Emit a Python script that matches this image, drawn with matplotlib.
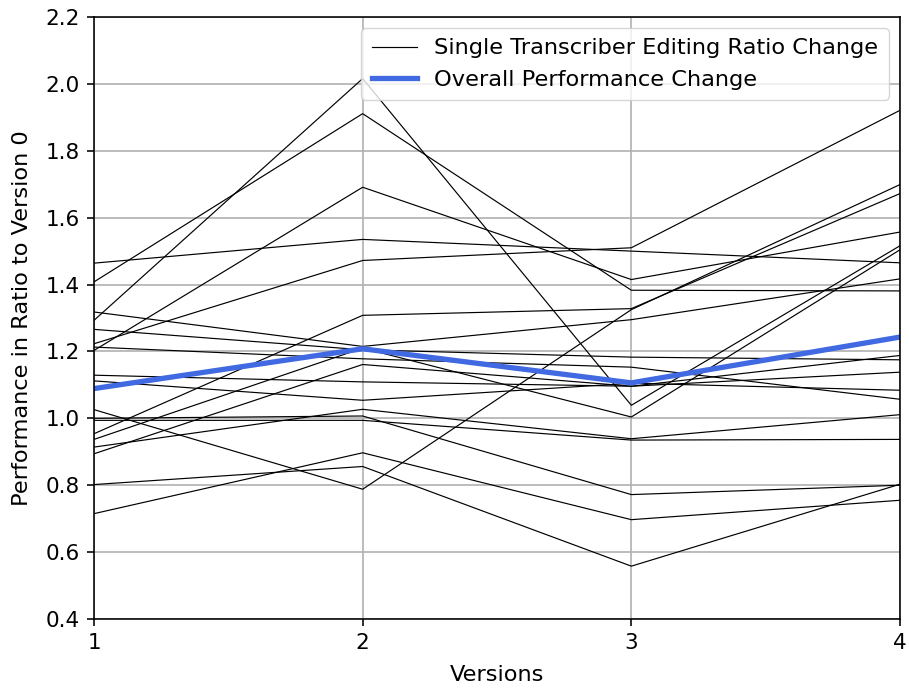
import matplotlib
matplotlib.use("Agg")
import matplotlib.pyplot as plt

versions = [1, 2, 3, 4]

# Single transcriber editing ratio changes (value at version 1..4)
transcribers = [
    [1.464, 1.535, 1.500, 1.465],
    [1.408, 1.911, 1.383, 1.381],
    [1.293, 2.016, 1.039, 1.516],
    [1.026, 0.788, 1.325, 1.699],
    [1.223, 1.472, 1.510, 1.921],
    [1.203, 1.691, 1.415, 1.557],
    [0.954, 1.308, 1.328, 1.672],
    [1.318, 1.215, 1.295, 1.417],
    [1.266, 1.205, 1.183, 1.175],
    [1.213, 1.178, 1.153, 1.057],
    [1.129, 1.109, 1.096, 1.138],
    [1.112, 1.054, 1.105, 1.084],
    [0.802, 0.856, 0.558, 0.803],
    [0.715, 0.897, 0.697, 0.755],
    [0.994, 0.994, 0.935, 0.937],
    [0.914, 1.027, 0.939, 1.011],
    [1.000, 1.007, 0.772, 0.800],
    [0.894, 1.161, 1.096, 1.188],
    [0.937, 1.210, 1.004, 1.504],
]

overall = [1.089, 1.208, 1.106, 1.243]

yticks = [0.4, 0.6, 0.8, 1.0, 1.2, 1.4, 1.6, 1.8, 2.0, 2.2]

plt.rcParams["axes.linewidth"] = 1.15

fig = plt.figure(figsize=(9.09, 6.88), dpi=100)
ax = fig.add_axes([94/909, 1-619/688, (900-94)/909, (619-17)/688])

for i, vals in enumerate(transcribers):
    ax.plot(versions, vals, color="black", lw=0.85,
            label="Single Transcriber Editing Ratio Change" if i == 0 else None)
ax.plot(versions, overall, color="royalblue", lw=3.8,
        label="Overall Performance Change")

ax.set_xlim(1, 4)
ax.set_ylim(0.4, 2.2)
ax.set_xticks(versions)
ax.set_yticks(yticks)
ax.set_yticklabels([f"{v:.1f}" for v in yticks])
ax.tick_params(labelsize=15.5, length=5, width=1.15, pad=5)
ax.grid(True, color="#b0b0b0", lw=1.2)
ax.set_axisbelow(True)
ax.set_xlabel("Versions", fontsize=16.2, labelpad=9)
ax.set_ylabel("Performance in Ratio to Version 0", fontsize=16.2, labelpad=10)
ax.legend(loc="upper right", fontsize=16.2, framealpha=0.8,
          borderaxespad=0.5, handlelength=2.0, borderpad=0.45)

fig.savefig("out.png", dpi=100)
